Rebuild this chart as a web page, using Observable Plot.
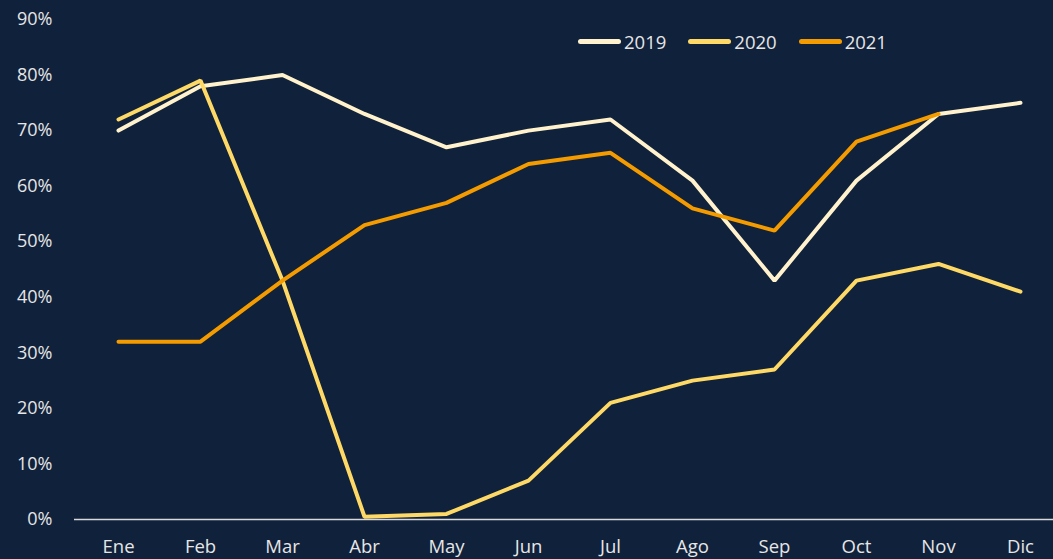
<!DOCTYPE html>
<html>
<head>
<meta charset="utf-8">
<script src="https://cdn.jsdelivr.net/npm/d3@7"></script>
<script src="https://cdn.jsdelivr.net/npm/@observablehq/plot@0.6"></script>
<style>
  html, body { margin: 0; padding: 0; background: #10213B; overflow: hidden; }
  #wrap { position: relative; width: 1053px; height: 559px; }
  #legend { position: absolute; left: 578px; top: 29px; display: flex; align-items: center;
    font-family: "Open Sans", "Noto Sans", sans-serif; font-size: 18.5px; color: #E6E6E6; }
  .item { display: flex; align-items: center; margin-right: 22px; }
  .sw { width: 43px; height: 5px; border-radius: 3px; margin-right: 3px; }
</style>
</head>
<body>
<div id="wrap"><div id="legend"></div></div>
<script>
const months = ["Ene","Feb","Mar","Abr","May","Jun","Jul","Ago","Sep","Oct","Nov","Dic"];
const series = ["2019","2020","2021"];
const colors = ["#FFF2CC","#FFD966","#F49B00"];
const v2019 = [70,78,80,73,67,70,72,61,43,61,73,75];
const v2020 = [72,79,43,0.5,1,7,21,25,27,43,46,41];
const v2021 = [32,32,43,53,57,64,66,56,52,68,73,null];
const yTicks = [0,10,20,30,40,50,60,70,80,90];

const vals = [v2019, v2020, v2021];
const data = [];
series.forEach((s, i) => months.forEach((m, j) => {
  if (vals[i][j] != null) data.push({serie: s, mes: m, v: vals[i][j]});
}));

const chart = Plot.plot({
  width: 1053,
  height: 559,
  marginLeft: 74,
  marginRight: 0,
  marginTop: 19,
  marginBottom: 40,
  style: {background: "#10213B", color: "#E6E6E6", fontFamily: "'Open Sans','Noto Sans',sans-serif", fontSize: "18px"},
  x: {type: "point", domain: months, range: [116, 1022], padding: 0, label: null},
  y: {domain: [0, 90], label: null},
  color: {domain: series, range: colors},
  marks: [
    Plot.axisY({ticks: yTicks, tickFormat: d => d + "%", tickSize: 0, tickPadding: 22, fontSize: 18, fill: "#E6E6E6"}),
    Plot.axisX({tickSize: 0, tickPadding: 20, fontSize: 18.5, fill: "#E6E6E6"}),
    Plot.ruleY([0], {stroke: "#D9D9D9", strokeWidth: 1.5}),
    Plot.line(data, {x: "mes", y: "v", z: "serie", stroke: "serie", strokeWidth: 4, strokeLinecap: "round", strokeLinejoin: "miter"})
  ]
});
const wrap = document.getElementById("wrap");
wrap.insertBefore(chart, wrap.firstChild);

const legend = document.getElementById("legend");
series.forEach((s, i) => {
  const it = document.createElement("div");
  it.className = "item";
  it.innerHTML = `<div class="sw" style="background:${colors[i]}"></div><span>${s}</span>`;
  legend.appendChild(it);
});
</script>
</body>
</html>
